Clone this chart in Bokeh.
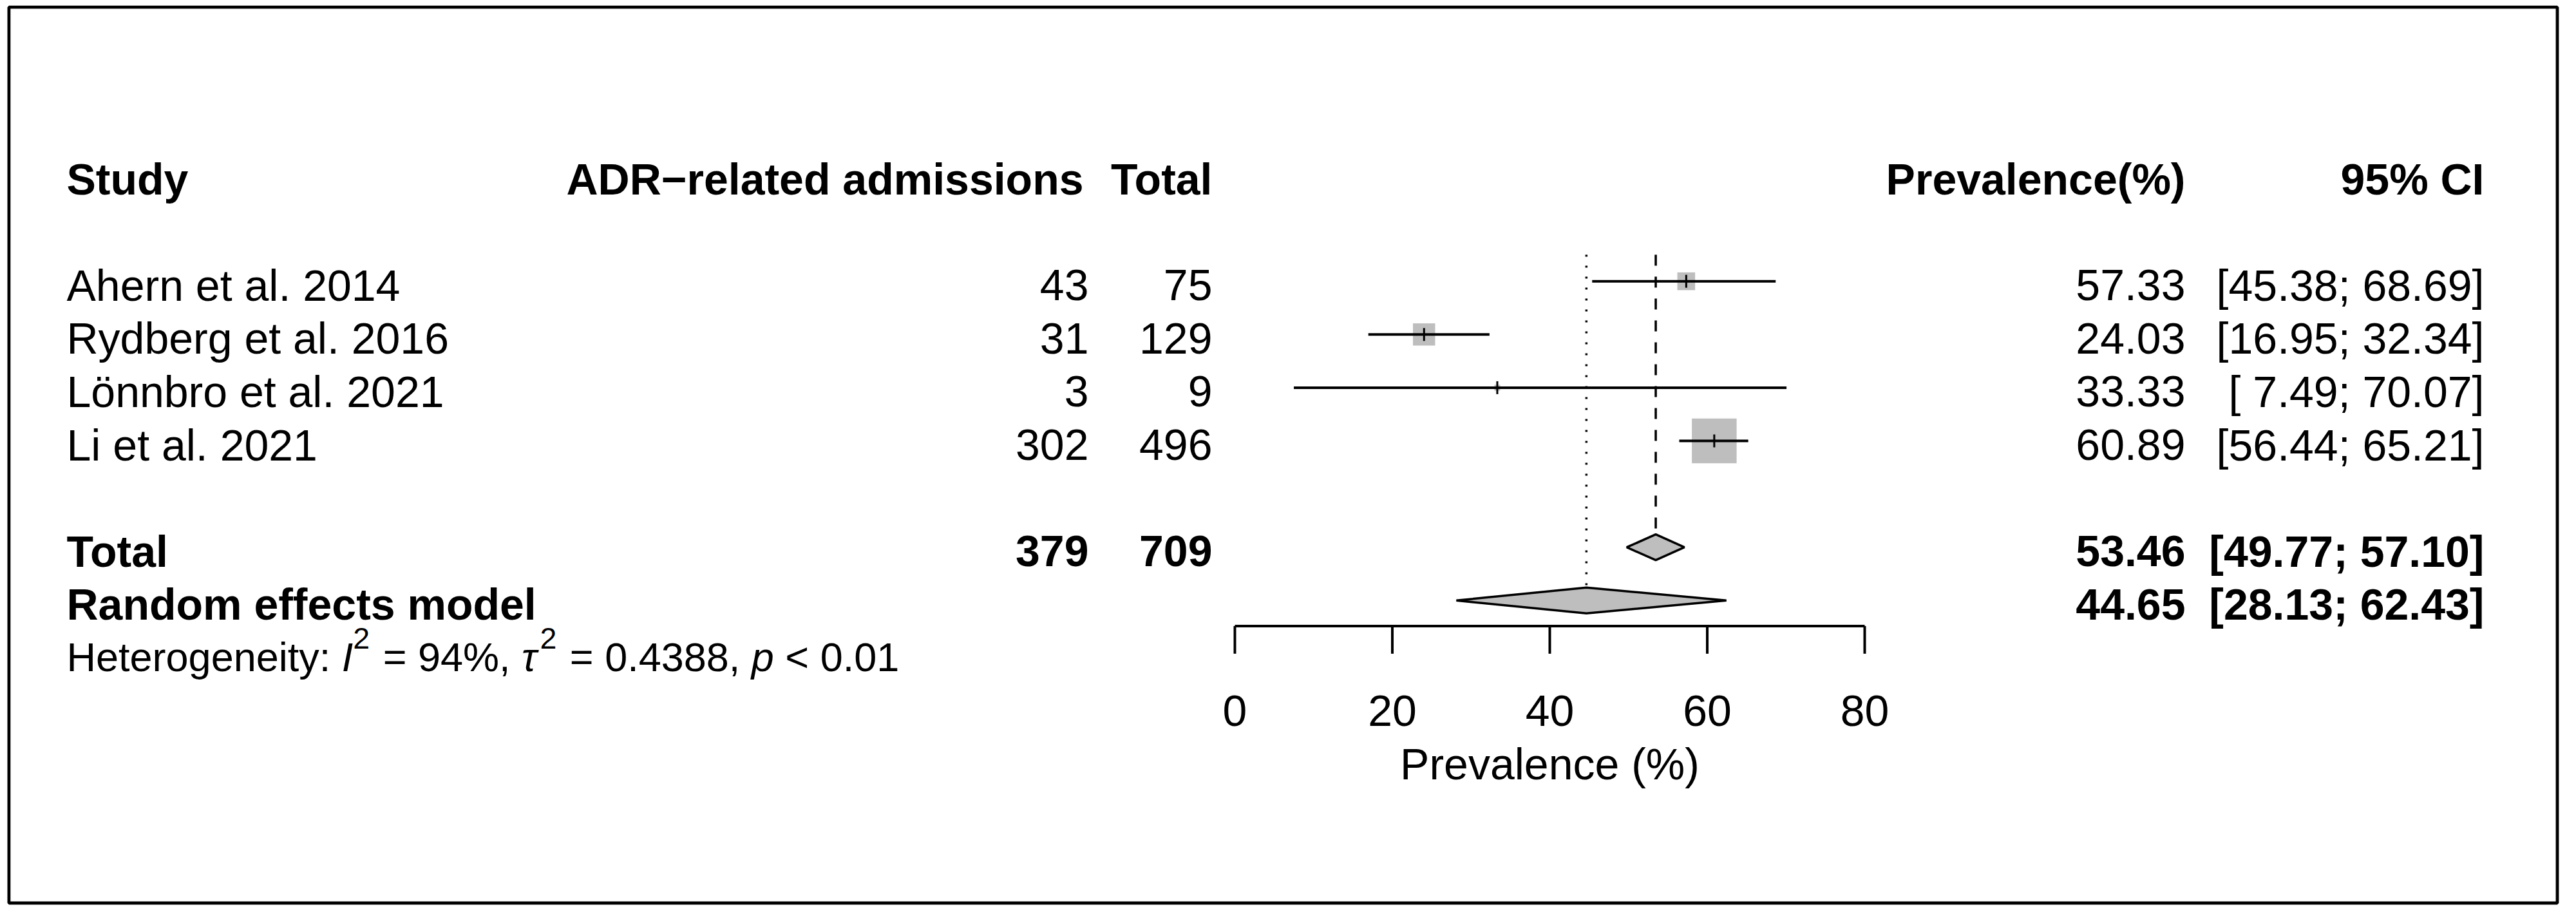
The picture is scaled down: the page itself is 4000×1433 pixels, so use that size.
from bokeh.plotting import figure
from bokeh.models import Range1d, ColumnDataSource
from bokeh.core.properties import value
from bokeh.embed import file_html
from bokeh.resources import INLINE
import math

# ---------------- data ----------------
studies = ["Ahern et al. 2014", "Rydberg et al. 2016", "Lönnbro et al. 2021", "Li et al. 2021"]
events = [43, 31, 3, 302]
totals = [75, 129, 9, 496]
prevalence = [57.33, 24.03, 33.33, 60.89]
ci_lower = [45.38, 16.95, 7.49, 56.44]
ci_upper = [68.69, 32.34, 70.07, 65.21]
weights = [11.1, 17.3, 1.2, 70.4]          # relative study weights (square area)

total_events = 379
total_n = 709
common_est, common_lo, common_hi = 53.46, 49.77, 57.10
random_est, random_lo, random_hi = 44.65, 28.13, 62.43
het_i2 = "94%"
het_tau2 = "0.4388"
het_p = "< 0.01"

ticks = [0, 20, 40, 60, 80]
tick_labels = ["0", "20", "40", "60", "80"]
axis_title = "Prevalence (%)"
headers = ["Study", "ADR\u2212related admissions", "Total", "Prevalence(%)", "95% CI"]
label_total = "Total"
label_random = "Random effects model"

# ---------------- layout (page pixels) ----------------
PAGE = 8
W, H = 3984, 1417
BORDER = (21.4, 3978.5, 18.7, 1409.5)   # left, right, top, bottom of the outer frame line
ROW0, ROW_H = 279.0, 82.6
X0_PX, PX_PER_UNIT = 1925.0, 12.225

COL_STUDY = 111
COL_EVENTS_H, COL_EVENTS = 1690, 1698
COL_TOTAL = 1890
COL_PREV = 3401
COL_CI = 3865

FONT = value("Liberation Sans")
FS = 68
FS_HET = 63
YOFF = 6        # baseline offset so that caps are centred on the row
YOFF_HET = 5

study_rows = [2 + i for i in range(len(studies))]
ROW_HEADER, ROW_TOTAL, ROW_RANDOM, ROW_HET = 0, 7, 8, 9
ROW_AXIS, ROW_TICK_END, ROW_TICKLAB, ROW_AXTITLE = 8.48, 9.0, 10, 11

top_px, bot_px = PAGE, PAGE + H
p = figure(
    width=W, height=H,
    x_range=Range1d(PAGE, PAGE + W),
    y_range=Range1d((bot_px - ROW0) / ROW_H, (top_px - ROW0) / ROW_H),
    output_backend="svg", toolbar_location=None,
    x_axis_type=None, y_axis_type=None,
    min_border_left=0, min_border_right=0, min_border_top=0, min_border_bottom=0,
)
p.extra_x_ranges = {"prev": Range1d((PAGE - X0_PX) / PX_PER_UNIT, (PAGE + W - X0_PX) / PX_PER_UNIT)}
p.extra_y_ranges = {"px": Range1d(bot_px, top_px)}
p.outline_line_color = None
p.background_fill_color = "white"
p.border_fill_color = "white"

# outer frame
p.quad(left=[BORDER[0]], right=[BORDER[1]], top=[BORDER[2]], bottom=[BORDER[3]],
       fill_color=None, line_color="black", line_width=4.8, y_range_name="px")


def txt(x, y, t, align="left", bold=False, italic=False, size=FS, yoff=YOFF):
    style = "bold" if bold else ("italic" if italic else "normal")
    src = ColumnDataSource(dict(x=x, y=y, t=t))
    p.text(x="x", y="y", text="t", source=src, text_font=FONT,
           text_font_size=value(f"{size}px"), text_font_style=style,
           text_align=align, text_baseline="alphabetic", y_offset=yoff,
           text_color="black")

# headers
txt([COL_STUDY], [ROW_HEADER], [headers[0]], bold=True)
txt([COL_EVENTS_H], [ROW_HEADER], [headers[1]], align="right", bold=True)
txt([COL_TOTAL], [ROW_HEADER], [headers[2]], align="right", bold=True)
txt([COL_PREV], [ROW_HEADER], [headers[3]], align="right", bold=True)
txt([COL_CI], [ROW_HEADER], [headers[4]], align="right", bold=True)

# study rows
n = len(studies)
txt([COL_STUDY] * n, study_rows, studies)
txt([COL_EVENTS] * n, study_rows, [str(v) for v in events], align="right")
txt([COL_TOTAL] * n, study_rows, [str(v) for v in totals], align="right")
txt([COL_PREV] * n, study_rows, [f"{v:.2f}" for v in prevalence], align="right")
txt([COL_CI] * n, study_rows, [f"[{a:5.2f}; {b:5.2f}]" for a, b in zip(ci_lower, ci_upper)], align="right")

# summary rows
txt([COL_STUDY, COL_STUDY], [ROW_TOTAL, ROW_RANDOM], [label_total, label_random], bold=True)
txt([COL_EVENTS], [ROW_TOTAL], [str(total_events)], align="right", bold=True)
txt([COL_TOTAL], [ROW_TOTAL], [str(total_n)], align="right", bold=True)
txt([COL_PREV, COL_PREV], [ROW_TOTAL, ROW_RANDOM],
    [f"{common_est:.2f}", f"{random_est:.2f}"], align="right", bold=True)
txt([COL_CI, COL_CI], [ROW_TOTAL, ROW_RANDOM],
    [f"[{common_lo:5.2f}; {common_hi:5.2f}]", f"[{random_lo:5.2f}; {random_hi:5.2f}]"],
    align="right", bold=True)

# heterogeneity line, composed of pieces (Arial advance widths, 1/1000 em)
ADV = {'H': 722, 'e': 556, 't': 278, 'r': 333, 'o': 556, 'g': 556, 'n': 556, 'i': 222,
       'y': 500, ':': 278, ' ': 278, '=': 584, '%': 889, ',': 278, '.': 278, '<': 584,
       'I': 278, 'p': 556, '\u03c4': 450}
for d in "0123456789":
    ADV[d] = 556


def width(s, size):
    return sum(ADV.get(c, 556) for c in s) * size / 1000.0

SUP = 0.74
SPACE = width(" ", FS_HET)
# (text, style, scale, rise, space after)
pieces = [
    ("Heterogeneity:", "normal", 1.0, 0, 1),
    ("I", "italic", 1.0, 0, 0),
    ("2", "normal", SUP, -29, 1),
    (f"= {het_i2},", "normal", 1.0, 0, 1),
    ("\u03c4", "italic", 1.0, 0, 0),
    ("2", "normal", SUP, -29, 1),
    (f"= {het_tau2},", "normal", 1.0, 0, 1),
    ("p", "italic", 1.0, 0, 1),
    (het_p, "normal", 1.0, 0, 0),
]
xcur = COL_STUDY
for s, st, scale, rise, sp in pieces:
    size = FS_HET * scale
    src = ColumnDataSource(dict(x=[xcur], y=[ROW_HET], t=[s]))
    p.text(x="x", y="y", text="t", source=src, text_font=FONT,
           text_font_size=value(f"{size:.1f}px"), text_font_style=st,
           text_align="left", text_baseline="alphabetic", y_offset=YOFF_HET + rise,
           text_color="black")
    xcur += width(s, size) + sp * SPACE + (3 if scale < 1 else 0)

# ---------------- forest ----------------
GREY = "#BEBEBE"
LW = 4.0
wmax = max(weights)
sizes = [69.5 * math.sqrt(w / wmax) for w in weights]
p.scatter(x=prevalence, y=study_rows, size=sizes, marker="square",
          fill_color=GREY, line_color=None, x_range_name="prev")

# reference lines
p.segment(x0=[common_est], y0=[1.5], x1=[common_est], y1=[ROW_TOTAL - 0.24],
          line_color="black", line_width=3.5, line_dash="17 17", x_range_name="prev")
p.segment(x0=[random_est], y0=[1.5], x1=[random_est], y1=[ROW_RANDOM - 0.24],
          line_color="black", line_width=3.5, line_dash="3 14", x_range_name="prev")

# CIs and estimate marks
p.segment(x0=ci_lower, y0=study_rows, x1=ci_upper, y1=study_rows,
          line_color="black", line_width=LW, x_range_name="prev")
p.segment(x0=prevalence, y0=[r - 0.121 for r in study_rows],
          x1=prevalence, y1=[r + 0.121 for r in study_rows],
          line_color="black", line_width=3, x_range_name="prev")

# diamonds
hh = 20.0 / ROW_H
p.patches(xs=[[common_lo, common_est, common_hi, common_est],
              [random_lo, random_est, random_hi, random_est]],
          ys=[[ROW_TOTAL, ROW_TOTAL - hh, ROW_TOTAL, ROW_TOTAL + hh],
              [ROW_RANDOM, ROW_RANDOM - hh, ROW_RANDOM, ROW_RANDOM + hh]],
          fill_color=GREY, line_color="black", line_width=3.5, x_range_name="prev")

# axis (drawn in data space)
p.segment(x0=[ticks[0]], y0=[ROW_AXIS], x1=[ticks[-1]], y1=[ROW_AXIS],
          line_color="black", line_width=LW, x_range_name="prev")
p.segment(x0=ticks, y0=[ROW_AXIS] * len(ticks), x1=ticks, y1=[ROW_TICK_END] * len(ticks),
          line_color="black", line_width=LW, x_range_name="prev")
src = ColumnDataSource(dict(x=ticks, y=[ROW_TICKLAB] * len(ticks), t=tick_labels))
p.text(x="x", y="y", text="t", source=src, x_range_name="prev", text_font=FONT,
       text_font_size=value(f"{FS}px"), text_align="center", text_baseline="alphabetic",
       y_offset=YOFF, text_color="black")
src = ColumnDataSource(dict(x=[(ticks[0] + ticks[-1]) / 2], y=[ROW_AXTITLE], t=[axis_title]))
p.text(x="x", y="y", text="t", source=src, x_range_name="prev", text_font=FONT,
       text_font_size=value(f"{FS}px"), text_align="center", text_baseline="alphabetic",
       y_offset=YOFF, text_color="black")

open("out.html", "w").write(file_html(p, INLINE))
